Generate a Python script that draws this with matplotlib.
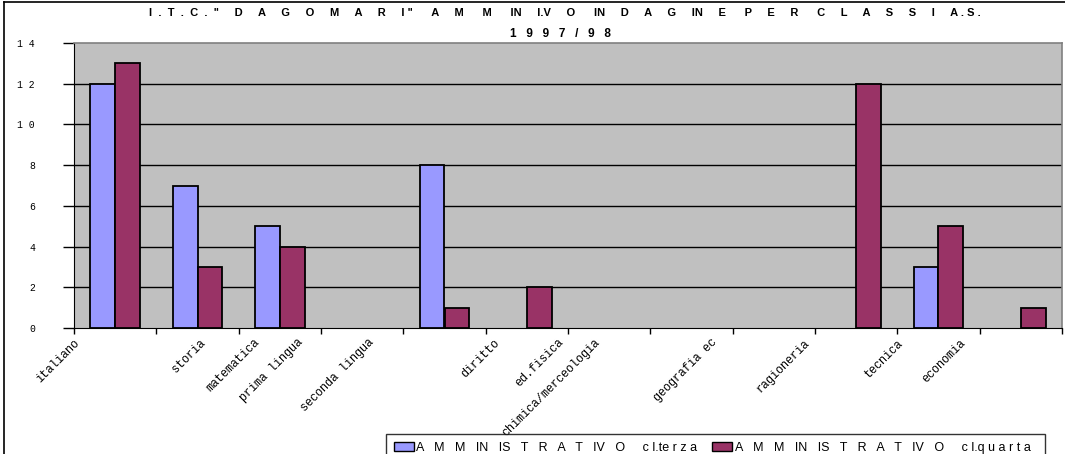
import matplotlib.pyplot as plt
import numpy as np
from matplotlib.patches import Rectangle
from matplotlib.lines import Line2D

# dati
materie = ["italiano", "storia", "matematica", "prima lingua", "seconda lingua",
           "diritto", "ed.fisica", "chimica/merceologia", "geografia ec",
           "ragioneria", "tecnica", "economia"]
terza = [12, 7, 5, 0, 8, 0, 0, 0, 0, 0, 3, 0]
quarta = [13, 3, 4, 0, 1, 2, 0, 0, 0, 12, 5, 1]
serie = ["A   M   M   IN   IS   T   R   A   T   IV   O     c l.te r z a",
         "A   M   M   IN   IS   T   R   A   T   IV   O     c l.q u a r t a  "]
y_ticks = [0, 2, 4, 6, 8, 10, 12, 14]
y_labels = ["0", "2", "4", "6", "8", "1 0", "1 2", "1 4"]
titolo_1 = ('I  .  T  .  C  .  "     D     A     G     O     M     A     R     I "      A     M      M      IN     I.V     O'
            '      IN     D     A     G     IN     E      P     E     R      C     L     A     S     S     I     A . S .')
titolo_2 = '1   9   9   7   /   9   8'

# posizioni (sfalsate) delle etichette, come nell'originale
pos_etichette = [-0.51, 1.02, 1.68, 2.21, 3.07, 4.59, 5.37, 5.81, 7.23, 8.36, 9.5, 10.25]

BLU = "#9999FF"
ROSSO = "#993366"
GRIGIO = "#C0C0C0"


def main() -> None:
    fig = plt.figure(figsize=(10.65, 4.54), dpi=100)
    ax = fig.add_axes([74 / 1065, 1 - 328 / 454, 988 / 1065, 285 / 454])
    ax.set_facecolor(GRIGIO)

    x = np.arange(len(materie))
    w = 0.3
    # gli zeri non si disegnano
    t = np.where(np.array(terza) > 0, terza, np.nan)
    q = np.where(np.array(quarta) > 0, quarta, np.nan)
    ax.bar(x - w / 2, t, w, color=BLU, edgecolor="black", linewidth=1.3, zorder=3)
    ax.bar(x + w / 2, q, w, color=ROSSO, edgecolor="black", linewidth=1.3, zorder=3)

    ax.set_xlim(-0.5, len(materie) - 0.5)
    ax.set_ylim(0, 14)

    # griglia orizzontale
    for y in y_ticks[1:-1]:
        ax.axhline(y, color="black", linewidth=1.0, zorder=1)

    for s in ["top", "right"]:
        ax.spines[s].set_color("#808080")
        ax.spines[s].set_linewidth(1.2)

    ax.set_yticks(y_ticks)
    ax.set_yticklabels(y_labels, family="Liberation Mono", fontsize=7)
    ax.tick_params(axis="y", length=8, width=1, pad=20, colors="black")

    ax.set_xticks(np.arange(-0.5, len(materie), 1.0))
    ax.set_xticklabels([])
    ax.tick_params(axis="x", length=4, width=1)

    trans = ax.get_xaxis_transform()
    for nome, px in zip(materie, pos_etichette):
        ax.text(px, -0.03, nome, transform=trans, rotation=45, ha="right", va="top",
                rotation_mode="anchor", family="Liberation Mono", fontsize=8.5)

    fig.text(0.53, 0.982, titolo_1, ha="center", va="top", fontsize=8,
             fontweight="bold", family="Liberation Sans")
    fig.text(0.526, 0.938, titolo_2, ha="center", va="top", fontsize=8.5,
             fontweight="bold", family="Liberation Sans")

    # legenda
    h = [Rectangle((0, 0), 1, 1, facecolor=BLU, edgecolor="black"),
         Rectangle((0, 0), 1, 1, facecolor=ROSSO, edgecolor="black")]
    leg = fig.legend(h, serie, loc="upper left", bbox_to_anchor=(386 / 1065, 1 - 434 / 454),
                     ncol=2, frameon=True, fancybox=False,
                     prop={"family": "Liberation Sans", "size": 9},
                     handlelength=1.6, handleheight=0.8, handletextpad=0.2,
                     columnspacing=1.2, borderpad=0.6, borderaxespad=0)
    leg.get_frame().set_edgecolor("black")
    leg.get_frame().set_linewidth(1.0)

    # bordo della figura
    fig.add_artist(Line2D([0.004, 0.004], [0, 0.996], color="black", linewidth=1.2))
    fig.add_artist(Line2D([0.004, 1], [0.996, 0.996], color="black", linewidth=1.2))

    fig.savefig("out.png", dpi=100)


if __name__ == '__main__':
    main()
